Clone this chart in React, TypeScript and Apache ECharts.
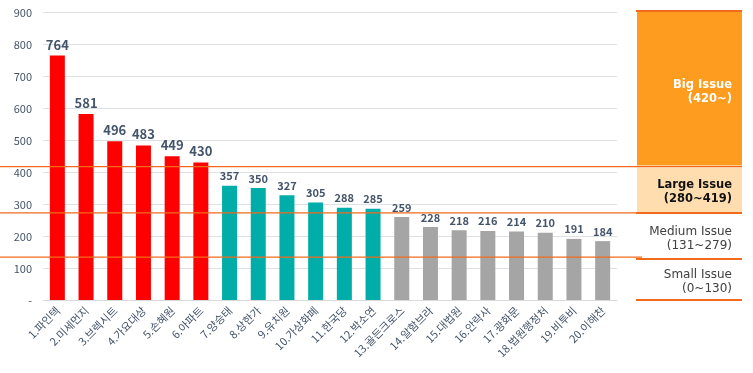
import React, { useEffect, useRef } from "react";
import * as echarts from "echarts";

const categories = [
  "1.파인텍", "2.미세먼지", "3.브렉시트", "4.가요대상", "5.손혜원",
  "6.아파트", "7.양승태", "8.상한가", "9.유치원", "10.가상화폐",
  "11.한국당", "12.박소연", "13.골든크로스", "14.알함브라", "15.대법원",
  "16.안락사", "17.광화문", "18.법원행정처", "19.비투비", "20.이해찬",
];
const values = [764, 581, 496, 483, 449, 430, 357, 350, 327, 305, 288, 285, 259, 228, 218, 216, 214, 210, 191, 184];

// tier thresholds (from legend) and where the divider lines sit on the value axis
const bigMin = 420;
const largeMin = 280;
const dividerValues = [417, 272, 134];
const tierTitles = ["Big Issue", "Large Issue", "Medium Issue", "Small Issue"];
const tierRanges = ["(420~)", "(280~419)", "(131~279)", "(0~130)"];

const RED = "#FF0000";
const TEAL = "#00ADA9";
const GRAY = "#A5A5A5";
const ORANGE_LINE = "#F26B1D";
const ORANGE_FILL = "#FD9C1E";
const PEACH = "#FFDDAF";
const LABEL = "#44546A";
const FONT = "'Noto Sans CJK KR', 'Noto Sans', sans-serif";
const PANEL_FONT = "'DejaVu Sans', sans-serif";

export default function App() {
  const ref = useRef<HTMLDivElement>(null);
  useEffect(() => {
    if (!ref.current) return;
    const chart = echarts.init(ref.current, undefined, { renderer: "svg" });
    const colorFor = (v: number) => (v >= bigMin ? RED : v >= largeMin ? TEAL : GRAY);
    chart.setOption({
      animation: false,
      textStyle: { fontFamily: FONT },
      grid: { left: 43, right: 136, top: 12, bottom: 73, containLabel: false },
      xAxis: {
        type: "category",
        data: categories,
        axisLine: { lineStyle: { color: "#D9D9D9" } },
        axisTick: { show: false },
        axisLabel: { interval: 0, rotate: 45, fontSize: 11, color: LABEL, margin: 8, fontFamily: FONT },
      },
      yAxis: {
        type: "value",
        min: 0,
        max: 900,
        interval: 100,
        axisLine: { show: false },
        axisTick: { show: false },
        splitLine: { lineStyle: { color: "#DDE1E6" } },
        axisLabel: {
          fontSize: 11,
          color: LABEL,
          margin: 11,
          formatter: (v: number) => (v === 0 ? "-" : String(v)),
        },
      },
      series: [
        {
          type: "bar",
          barWidth: 15,
          data: values.map((v) => ({
            value: v,
            itemStyle: { color: colorFor(v) },
            label: {
              show: true,
              position: "top",
              distance: 5,
              color: LABEL,
              fontWeight: "bold",
              fontSize: v >= bigMin ? 13 : 11,
            },
          })),
        },
      ],
    });

    const yPix = (v: number) => chart.convertToPixel({ yAxisIndex: 0 }, v) as number;
    const yTop = yPix(900);
    const yZero = yPix(0);
    const [d1, d2, d3] = dividerValues.map(yPix);
    const px0 = 636;
    const px1 = 742;
    const textX = 732;
    const panelDivider3 = d3 + 2;

    const line = (x1: number, y: number, x2: number, w: number) => ({
      type: "line",
      z: 100,
      shape: { x1, y1: y, x2, y2: y },
      style: { stroke: ORANGE_LINE, lineWidth: w },
    });
    const regions = [
      [yTop, d1],
      [d1, d2],
      [d2, panelDivider3],
      [panelDivider3, yZero],
    ];
    const colors = ["#FFFFFF", "#111111", "#404040", "#404040"];
    const bold = [true, true, false, false];
    const texts: any[] = regions.map(([a, b], i) => ({
      type: "text",
      z: 110,
      x: textX,
      y: (a + b) / 2 + 1.5,
      style: {
        text: tierTitles[i] + "\n" + tierRanges[i],
        fill: colors[i],
        font: `${bold[i] ? "bold 11.5px" : "12px"} ${PANEL_FONT}`,
        lineHeight: 14,
        align: "right",
        verticalAlign: "middle",
      },
    }));

    chart.setOption({
      graphic: [
        { type: "rect", z: 90, shape: { x: px0 + 1, y: yTop, width: px1 - px0 - 1, height: d1 - yTop - 1 }, style: { fill: ORANGE_FILL } },
        { type: "rect", z: 90, shape: { x: px0 + 1, y: d1 + 1, width: px1 - px0 - 1, height: d2 - d1 - 1 }, style: { fill: PEACH } },
        line(px0, yTop - 1, px1, 2),
        line(0, d1, px1, 1.3),
        line(0, d2, px1, 1.3),
        line(px0, d2, px1, 2),
        line(0, d3, px0 + 6, 1.3),
        line(px0, panelDivider3, px1, 2),
        line(px0, yZero, px1, 2),
        ...texts,
      ],
    });

    return () => chart.dispose();
  }, []);
  return <div ref={ref} style={{ position: "fixed", left: 0, top: 0, width: 753, height: 373 }} />;
}
